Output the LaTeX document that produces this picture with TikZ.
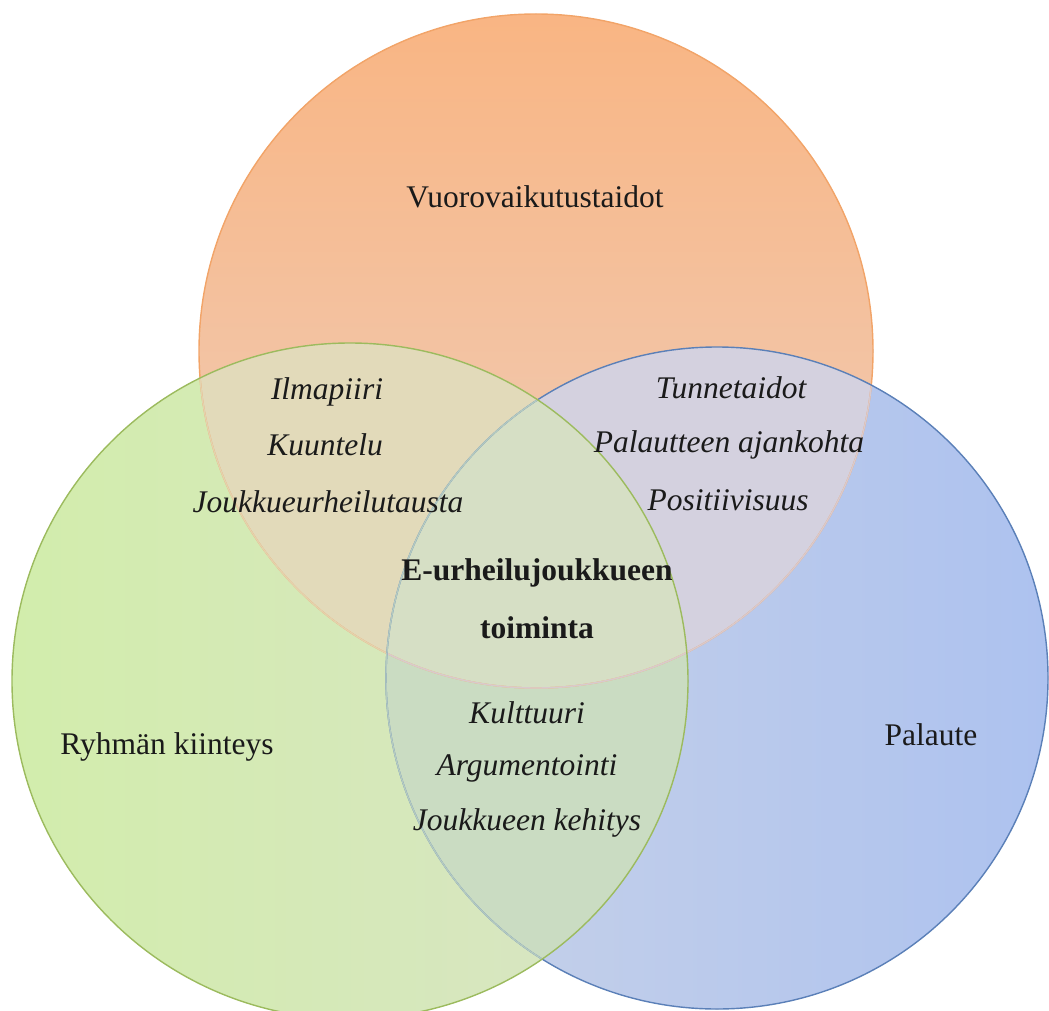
\documentclass[tikz,border=0pt]{standalone}
\usepackage{fontspec}
\setmainfont{Liberation Serif}
\definecolor{orTop}{HTML}{F9B583}
\definecolor{orBot}{HTML}{EDD0C0}
\definecolor{orLine}{HTML}{F2A468}
\definecolor{grL}{HTML}{D2EDAC}
\definecolor{grR}{HTML}{D9E4C6}
\definecolor{grLine}{HTML}{9CBB5E}
\definecolor{blL}{HTML}{C8D2E8}
\definecolor{blR}{HTML}{ADC2EF}
\definecolor{blLine}{HTML}{5B80B8}
\definecolor{og}{HTML}{E2DABA}
\definecolor{ob}{HTML}{D4D1DF}
\definecolor{gb}{HTML}{CADCC2}
\definecolor{ogb}{HTML}{D6DFC5}
\definecolor{txt}{HTML}{1A1A1A}
\begin{document}
\begin{tikzpicture}[x=1pt,y=-1pt,
  lbl/.style={inner sep=0pt,anchor=center,text=txt,font=\fontsize{31.5}{38}\selectfont},
  itl/.style={lbl,font=\fontsize{31.5}{38}\selectfont\itshape},
  bld/.style={lbl,font=\fontsize{31.5}{38}\selectfont\bfseries}]
\useasboundingbox (0,0) rectangle (1049,1011);
\clip (0,0) rectangle (1049,1011);
\def\rO{337}\def\rG{338}\def\rB{331}
\coordinate (cO) at (536,351);
\coordinate (cG) at (350,681);
\coordinate (cB) at (717,678);
% base fills
\fill[top color=orTop,bottom color=orBot] (cO) circle[radius=\rO];
\fill[left color=blL,right color=blR] (cB) circle[radius=\rB];
\fill[left color=grL,right color=grR] (cG) circle[radius=\rG];
% overlaps
\begin{scope}
  \clip (cO) circle[radius=\rO];
  \fill[og] (cG) circle[radius=\rG];
  \fill[ob] (cB) circle[radius=\rB];
\end{scope}
\begin{scope}
  \clip (cG) circle[radius=\rG];
  \fill[gb] (cB) circle[radius=\rB];
  \clip (cO) circle[radius=\rO];
  \fill[ogb] (cB) circle[radius=\rB];
\end{scope}
% outlines
\draw[orLine,line width=1.4pt] (cO) circle[radius=\rO];
\begin{scope}
  \clip (cG) circle[radius=\rG];
  \draw[color=og!85!orLine,line width=1.4pt] (cO) circle[radius=\rO];
\end{scope}
\begin{scope}
  \clip (cB) circle[radius=\rB];
  \draw[color=ob!85!orLine,line width=1.4pt] (cO) circle[radius=\rO];
\end{scope}
\draw[blLine,line width=1.4pt] (cB) circle[radius=\rB];
\begin{scope}
  \clip (cG) circle[radius=\rG];
  \draw[color=gb!80!blLine,line width=1.4pt] (cB) circle[radius=\rB];
\end{scope}
\draw[grLine,line width=1.4pt] (cG) circle[radius=\rG];
% texts
\node[lbl] (vuoro) at (535,197) {Vuorovaikutustaidot};
\node[itl] (ilma) at (327,392) {Ilmapiiri};
\node[itl] (kuun) at (325,445) {Kuuntelu};
\node[itl] (jour) at (328,502) {Joukkueurheilutausta};
\node[itl] (tunne) at (731,388) {Tunnetaidot};
\node[itl] (pala1) at (729,445) {Palautteen ajankohta};
\node[itl] (posi) at (728,500) {Positiivisuus};
\node[bld] (eurh) at (537,573) {E-urheilujoukkueen};
\node[bld] (toim) at (537,628) {toiminta};
\node[itl] (kult) at (527,713) {Kulttuuri};
\node[itl] (argu) at (527,768) {Argumentointi};
\node[itl] (jkeh) at (527,823) {Joukkueen kehitys};
\node[lbl] (ryhm) at (167,747) {Ryhmän kiinteys};
\node[lbl] (palt) at (931,735) {Palaute};
\end{tikzpicture}
\end{document}
